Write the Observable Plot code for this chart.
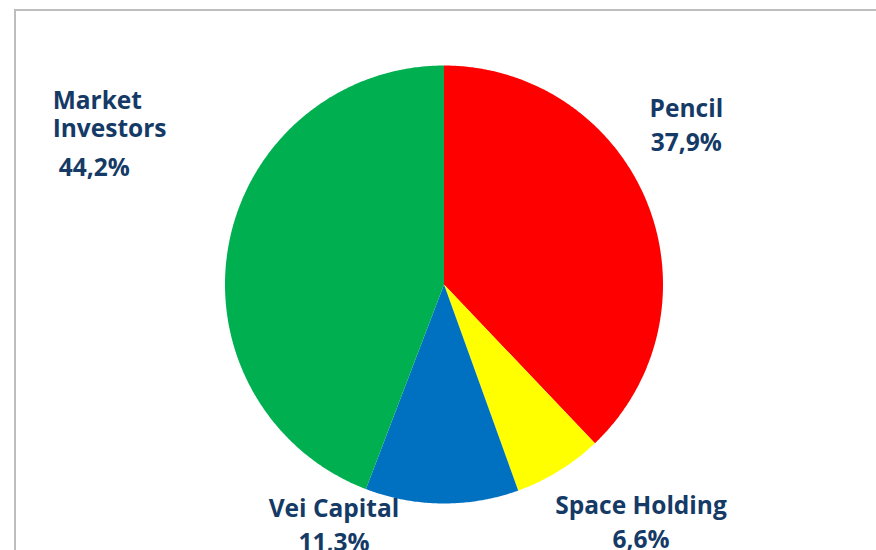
<!DOCTYPE html>
<html><head><meta charset="utf-8">
<script src="https://cdn.jsdelivr.net/npm/d3@7"></script>
<script src="https://cdn.jsdelivr.net/npm/@observablehq/plot@0.6"></script>
<style>
body{margin:0;background:#fff;}
#wrap{position:relative;width:876px;height:550px;overflow:hidden;background:#fff;}
#frame{position:absolute;left:14px;top:9px;width:1000px;height:1000px;border-top:2px solid #bdbdbd;border-left:2px solid #bdbdbd;}
#chart{position:absolute;left:0;top:0;}
</style></head><body>
<div id="wrap"><div id="frame"></div><div id="chart"></div></div>
<script>
const categories = ["Pencil", "Space Holding", "Vei Capital", "Market Investors"];
const shares = [37.9, 6.6, 11.3, 44.2];
const shareLabels = ["37,9%", "6,6%", "11,3%", "44,2%"];
const colors = ["#FF0000", "#FFFF00", "#0070C0", "#00B050"];

const total = d3.sum(shares);
// pie slices clockwise from 12 o'clock
const slices = [];
let acc = 0;
categories.forEach((c, i) => {
  const a0 = acc / total * 2 * Math.PI;
  acc += shares[i];
  const a1 = acc / total * 2 * Math.PI;
  slices.push({category: c, share: shares[i], label: shareLabels[i], a0, a1, mid: (a0 + a1) / 2});
});

const polys = [];
slices.forEach(s => {
  polys.push({category: s.category, x: 0, y: 0});
  const n = Math.max(2, Math.ceil((s.a1 - s.a0) / (Math.PI / 360)));
  for (let k = 0; k <= n; k++) {
    const a = s.a0 + (s.a1 - s.a0) * k / n;
    polys.push({category: s.category, x: Math.sin(a), y: Math.cos(a)});
  }
});

const anchors = slices.map(s => ({category: s.category, label: s.label, x: Math.sin(s.mid), y: Math.cos(s.mid)}));
const pick = c => anchors.filter(d => d.category === c);

const font = {fontFamily: "'Open Sans', sans-serif", fontWeight: "bold", fontSize: 24.5, fill: "#153a66"};
const cx = 443.5, cy = 284, r = 219;

const plot = Plot.plot({
  width: 876,
  height: 550,
  margin: 0,
  x: {domain: [-1, 1], range: [cx - r, cx + r], axis: null},
  y: {domain: [-1, 1], range: [cy + r, cy - r], axis: null},
  color: {domain: categories, range: colors},
  style: {background: "transparent", overflow: "visible"},
  marks: [
    Plot.line(polys, {x: "x", y: "y", z: "category", fill: "category", stroke: null, curve: "linear-closed"}),
    Plot.text(pick("Pencil"), {x: "x", y: "y", text: d => d.category + "\n" + d.label, textAnchor: "middle", lineAnchor: "bottom", lineHeight: 1.39, dx: 39, dy: -52, ...font}),
    Plot.text(pick("Space Holding"), {x: "x", y: "y", text: d => d.category + "\n" + d.label, textAnchor: "middle", lineAnchor: "bottom", lineHeight: 1.39, dx: 82, dy: 77, ...font}),
    Plot.text(pick("Vei Capital"), {x: "x", y: "y", text: d => d.category + "\n" + d.label, textAnchor: "middle", lineAnchor: "bottom", lineHeight: 1.39, dx: -108, dy: 48, ...font}),
    Plot.text(pick("Market Investors"), {x: "x", y: "y", text: d => d.category.replace(" ", "\n"), textAnchor: "start", lineAnchor: "bottom", lineHeight: 1.14, dx: -176, dy: -107.5, ...font}),
    Plot.text(pick("Market Investors"), {x: "x", y: "y", text: "label", textAnchor: "start", lineAnchor: "bottom", dx: -170, dy: -68.5, ...font})
  ]
});
document.getElementById("chart").appendChild(plot);
</script>
</body></html>
